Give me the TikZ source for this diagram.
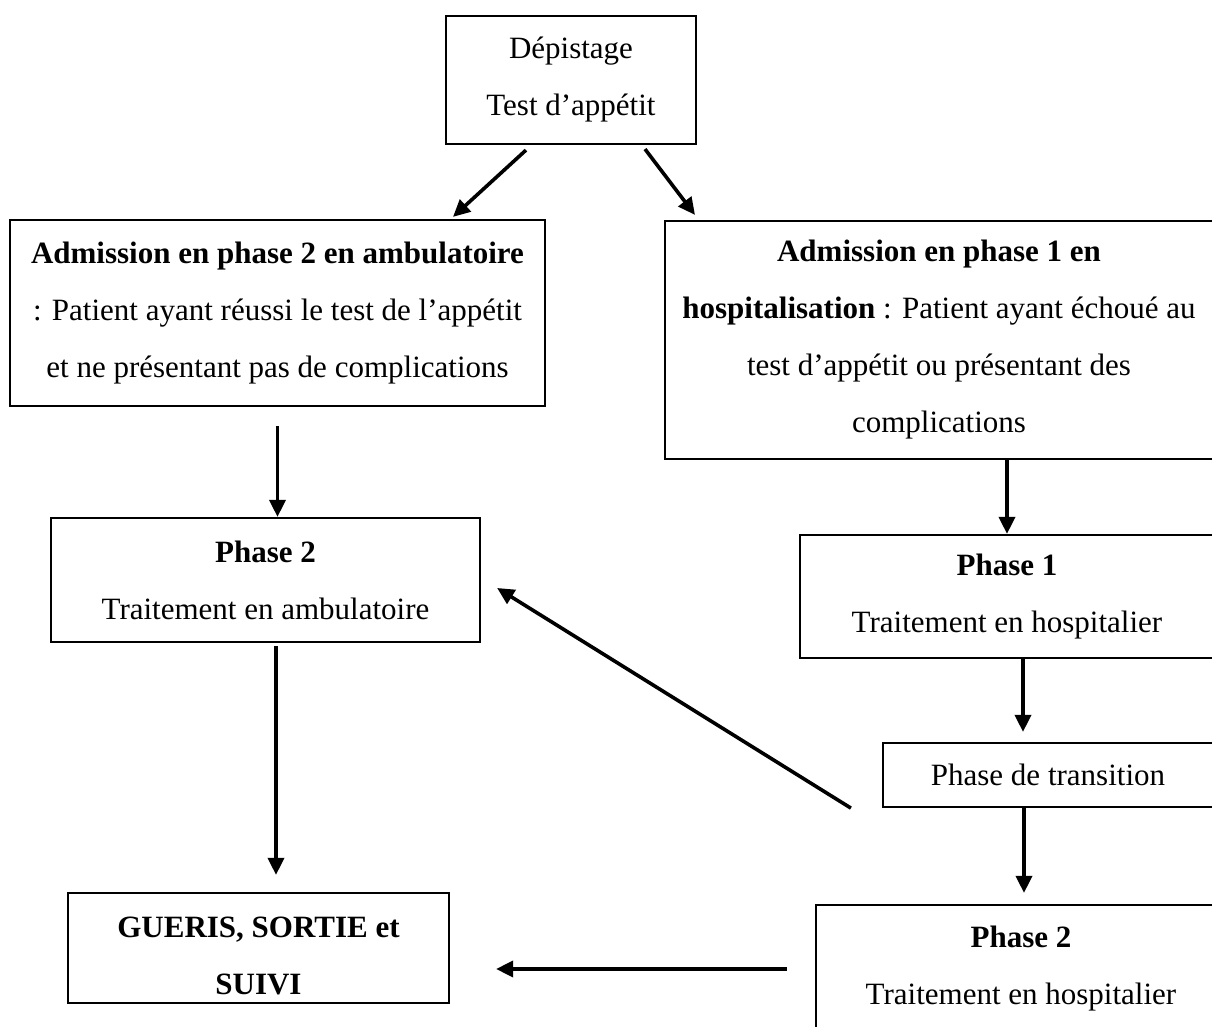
\documentclass[tikz,border=0pt]{standalone}
\usepackage{fontspec}
\setmainfont{Liberation Serif}
\usetikzlibrary{arrows.meta}
\begin{document}
\begin{tikzpicture}[x=0.5pt,y=-0.5pt,
  box/.style={draw=black,line width=1.1pt,rectangle,inner sep=0pt,align=center,
    font=\fontsize{15.5}{28.5}\selectfont},
  txt/.style={inner sep=0pt,align=center,font=\fontsize{15.5}{28.5}\selectfont},
  arr/.style={line width=1.8pt,-{Triangle[length=8.5pt,width=8pt]}}]
\fill[white] (0,0) rectangle (1212,1027);
\path[use as bounding box] (0,0) rectangle (1212,1027);

\node[box,minimum width=125pt,minimum height=64pt] (dep) at (571,80) {Dépistage\\Test d’appétit};
\node[box,minimum width=267.5pt,minimum height=93pt] (a2) at (277.5,313)
  {\textbf{Admission en phase 2 en ambulatoire}\\: Patient ayant réussi le test de l’appétit\\et ne présentant pas de complications};
\node[box,minimum width=274pt,minimum height=119pt] (a1) at (939,340)
  {\textbf{Admission en phase 1 en}\\\textbf{hospitalisation} : Patient ayant échoué au\\test d’appétit ou présentant des\\complications};
\node[box,minimum width=214.5pt,minimum height=62pt] (p2a) at (265.5,580)
  {\textbf{Phase 2}\\Traitement en ambulatoire};
\node[box,minimum width=207pt,minimum height=61.5pt] (p1) at (1007,596.5)
  {\textbf{Phase 1}\\Traitement en hospitalier};
\node[box,minimum width=165pt,minimum height=32pt] (tr) at (1048,775)
  {Phase de transition};
\node[box,minimum width=205pt,minimum height=64pt] (p2h) at (1021,969)
  {\textbf{Phase 2}\\Traitement en hospitalier};
\node[box,minimum width=190.5pt,minimum height=55pt] (gb) at (258.5,948) {};
\node[txt] (g) at (258.5,956) {\textbf{GUERIS, SORTIE et}\\\textbf{SUIVI}};

% connectors
\draw[arr] ([xshift=-22.5pt,yshift=-2.5pt]dep.south) -- ([xshift=87.75pt,yshift=1pt]a2.north);
\draw[arr] ([xshift=37pt,yshift=-2pt]dep.south) -- ([xshift=-122pt,yshift=2.5pt]a1.north);
\draw[arr,shorten <=9.5pt] (a2.south) -- (a2.south |- p2a.north);
\draw[arr,shorten <=1.5pt,shorten >=8.5pt] ([xshift=5.25pt]p2a.south) -- ([xshift=5.25pt]p2a.south |- gb.north);
\draw[arr] (p1.north |- a1.south) -- (p1.north);
\draw[arr,shorten >=5pt] ([xshift=8pt]p1.south) -- ([xshift=8pt]p1.south |- tr.north);
\draw[arr,shorten >=5.5pt] ([xshift=-12pt]tr.south) -- ([xshift=-12pt]tr.south |- p2h.north);
\draw[arr] ([xshift=-15.5pt]tr.south west) -- ([xshift=8pt,yshift=-4pt]p2a.east);
\draw[arr] ([xshift=-14pt]p2h.west) -- ([xshift=23pt]gb.east |- p2h.west);
\end{tikzpicture}
\end{document}
